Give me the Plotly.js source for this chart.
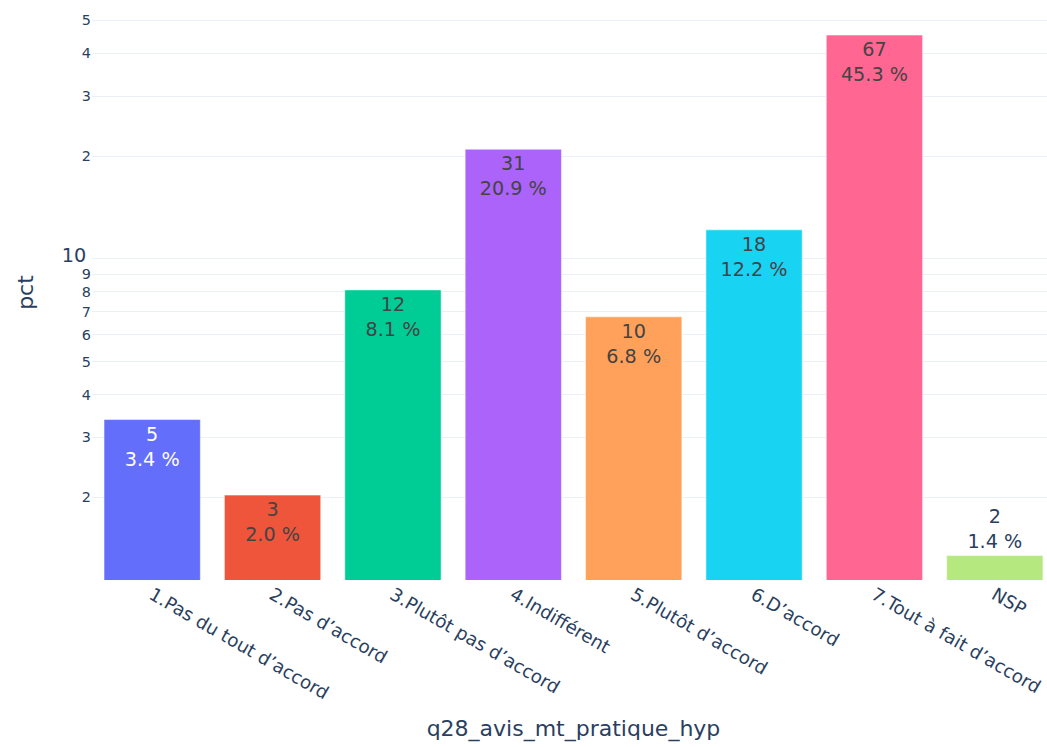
<!DOCTYPE html>
<html>
<head>
<meta charset="utf-8">
<script src="https://cdn.plot.ly/plotly-3.0.1.min.js"></script>
<style>
html, body { margin:0; padding:0; overflow:hidden; background:#fff; }
#chart { width:1100px; height:747px; }
</style>
</head>
<body>
<div id="chart"></div>
<script>
const categories = [
  "1.Pas du tout d’accord",
  "2.Pas d’accord",
  "3.Plutôt pas d’accord",
  "4.Indifférent",
  "5.Plutôt d’accord",
  "6.D’accord",
  "7.Tout à fait d’accord",
  "NSP"
];
const counts = [5, 3, 12, 31, 10, 18, 67, 2];
const pct = [3.38, 2.03, 8.11, 20.95, 6.76, 12.16, 45.27, 1.35];
const colors = ["#636efa", "#EF553B", "#00cc96", "#ab63fa", "#FFA15A", "#19d3f3", "#FF6692", "#B6E880"];

const labels = counts.map((c, i) => c + "<br>" + pct[i].toFixed(1) + " %");

const trace = {
  type: "bar",
  x: categories,
  y: pct,
  text: labels,
  textposition: "auto",
  marker: { color: colors, line: { color: "#ffffff", width: 0.5 } },
  hoverinfo: "x+y"
};

const font = 'Verdana, "DejaVu Sans", sans-serif';

const layout = {
  width: 1100,
  height: 747,
  margin: { l: 92, r: 45, t: 5, b: 167 },
  paper_bgcolor: "#ffffff",
  plot_bgcolor: "#ffffff",
  font: { family: font, size: 19.2, color: "#2a3f5f" },
  showlegend: false,
  bargap: 0.2,
  xaxis: {
    title: { text: "q28_avis_mt_pratique_hyp", font: { size: 22 }, standoff: 18 },
    tickangle: 30,
    tickfont: { size: 18.2 },
    showgrid: false,
    automargin: true,
    ticks: "",
    showline: false
  },
  yaxis: {
    title: { text: "pct", font: { size: 22 }, standoff: 22 },
    type: "log",
    range: [0.0587, 1.744],
    dtick: "D1",
    gridcolor: "#EBF0F8",
    zeroline: false,
    automargin: true,
    ticks: ""
  }
};

Plotly.newPlot("chart", [trace], layout, { displayModeBar: false, staticPlot: true });
</script>
</body>
</html>
